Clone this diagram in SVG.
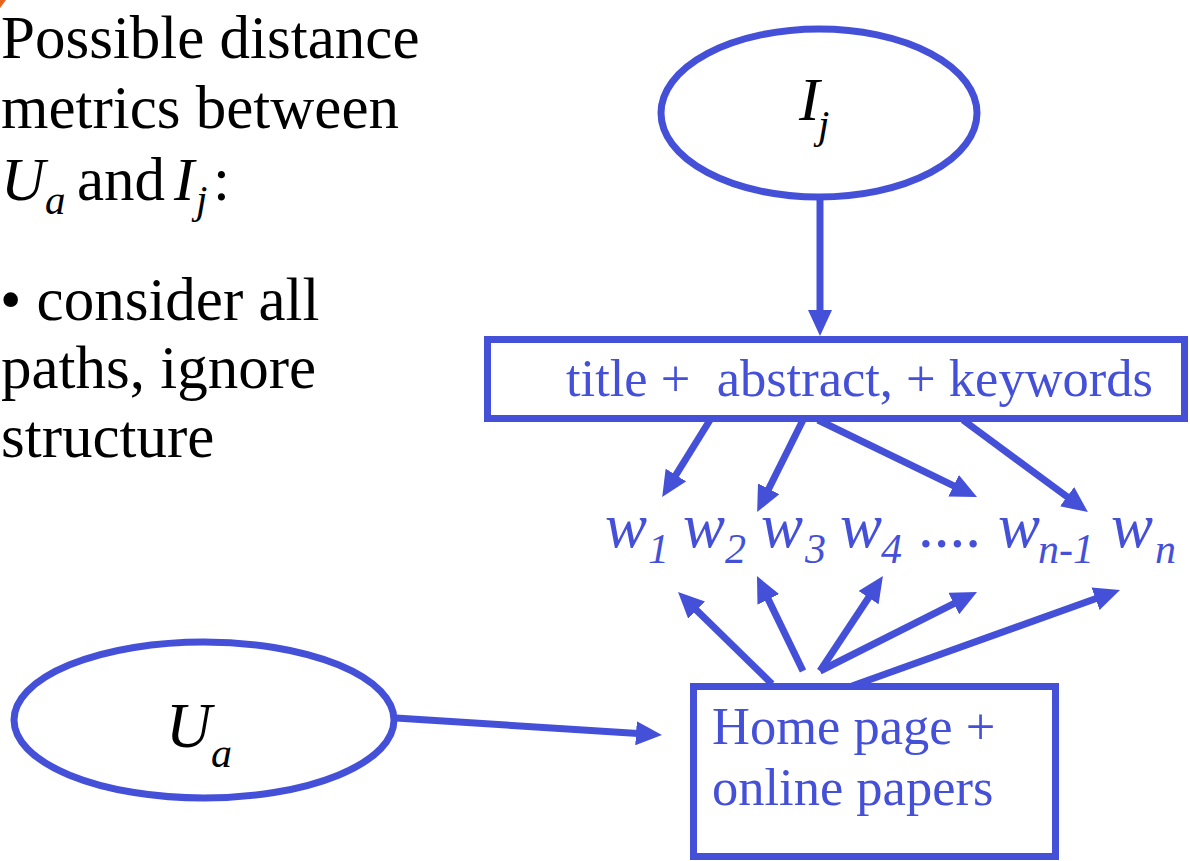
<svg xmlns="http://www.w3.org/2000/svg" width="1190" height="861" viewBox="0 0 1190 861">
<style>
.shape{fill:none;stroke:#4550D9;stroke-width:7}
.conn{fill:none;stroke:#4550D9;stroke-width:7}
.blk{font-family:"Liberation Serif","Times New Roman",serif;fill:#000}
.blu{font-family:"Liberation Serif","Times New Roman",serif;fill:#4550D9}
.it{font-style:italic}
</style>
<defs>
<marker id="ah" viewBox="0 0 26 24" refX="14" refY="12" markerWidth="26" markerHeight="24" orient="auto" markerUnits="userSpaceOnUse">
<path d="M0,0 L26,12 L0,24 z" fill="#4550D9"/>
</marker>
</defs>
<rect width="1190" height="861" fill="#fff"/>
<polygon points="0,0 6,0 0,8" fill="#E8641B"/>
<g id="bullets">
<text class="blk" font-size="61">
<tspan x="1" y="58">Possible distance</tspan>
<tspan x="1" y="128">metrics between</tspan>
</text>
<text class="blk" font-size="61">
<tspan class="it" x="1" y="200">U</tspan><tspan class="it" x="45" y="214" font-size="41">a</tspan><tspan x="77" y="200">and</tspan><tspan class="it" x="174" y="200">I</tspan><tspan class="it" x="196" y="213" font-size="41">j</tspan><tspan x="213" y="200">:</tspan>
</text>
<text class="blk" font-size="61">
<tspan x="0" y="320">• consider all</tspan>
<tspan x="1" y="388">paths, ignore</tspan>
<tspan x="1" y="457">structure</tspan>
</text>
</g>
<g id="node-Ij">
<ellipse class="shape" cx="819" cy="113" rx="158" ry="84"/>
<text class="blk it" font-size="62"><tspan x="799" y="120">I</tspan><tspan x="818" y="138" font-size="41">j</tspan></text>
</g>
<g id="node-title">
<rect class="shape" x="487.5" y="339.5" width="697" height="79"/>
<text class="blu" font-size="52.5" x="566" y="396" xml:space="preserve">title +  abstract, + keywords</text>
</g>
<g id="node-words">
<text class="blu it" font-size="63">
<tspan x="605" y="547">w</tspan><tspan x="648" y="563" font-size="42">1</tspan>
<tspan x="683" y="547">w</tspan><tspan x="725" y="563" font-size="42">2</tspan>
<tspan x="761" y="547">w</tspan><tspan x="805" y="563" font-size="42">3</tspan>
<tspan x="840" y="547">w</tspan><tspan x="881" y="563" font-size="42">4</tspan>
<tspan x="918" y="547" font-style="normal">....</tspan>
<tspan x="998" y="547">w</tspan><tspan x="1038" y="563" font-size="42">n-1</tspan>
<tspan x="1111" y="547">w</tspan><tspan x="1155" y="563" font-size="42">n</tspan>
</text>
</g>
<g id="node-Ua">
<ellipse class="shape" cx="204" cy="720" rx="190" ry="78"/>
<text class="blk it" font-size="63"><tspan x="166" y="747">U</tspan><tspan x="211" y="767" font-size="42">a</tspan></text>
</g>
<g id="node-home">
<rect class="shape" x="693.5" y="686.5" width="362" height="170"/>
<text class="blu" font-size="52.5"><tspan x="712" y="744">Home page +</tspan><tspan x="712" y="805">online papers</tspan></text>
</g>
<g id="connectors">
<line class="conn" x1="820" y1="197" x2="820" y2="324" marker-end="url(#ah)"/>
<line class="conn" x1="710" y1="420" x2="668.5" y2="486.9" marker-end="url(#ah)"/>
<line class="conn" x1="803" y1="420" x2="762.5" y2="501.3" marker-end="url(#ah)"/>
<line class="conn" x1="818" y1="420" x2="966.2" y2="491.8" marker-end="url(#ah)"/>
<line class="conn" x1="963" y1="420" x2="1078.3" y2="505.0" marker-end="url(#ah)"/>
<line class="conn" x1="772" y1="684" x2="686.6" y2="600.4" marker-end="url(#ah)"/>
<line class="conn" x1="803" y1="671" x2="762.2" y2="586.8" marker-end="url(#ah)"/>
<line class="conn" x1="820" y1="671" x2="876.3" y2="586.0" marker-end="url(#ah)"/>
<line class="conn" x1="820" y1="671" x2="966.3" y2="597.3" marker-end="url(#ah)"/>
<line class="conn" x1="852" y1="686" x2="1108.7" y2="594.0" marker-end="url(#ah)"/>
<line class="conn" x1="396" y1="718" x2="650.0" y2="734.2" marker-end="url(#ah)"/>
</g>
</svg>
